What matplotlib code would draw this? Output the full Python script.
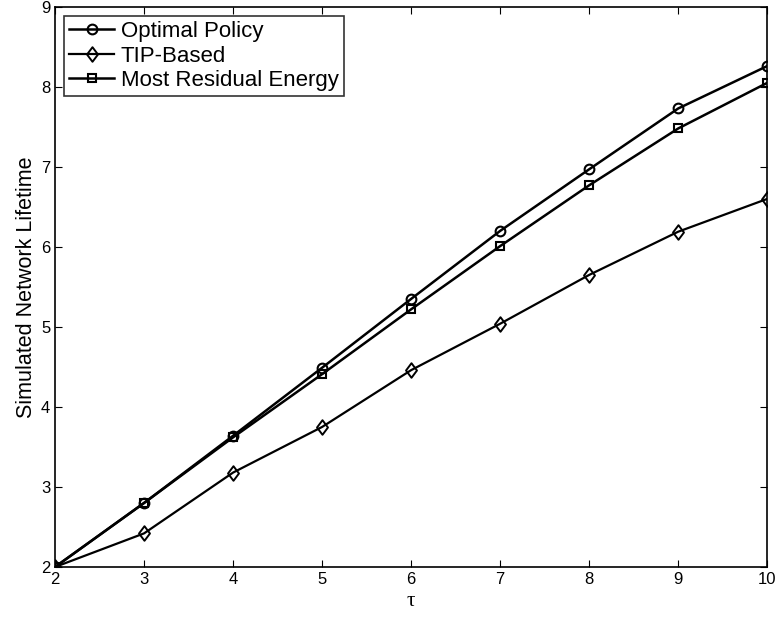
import matplotlib
matplotlib.use('Agg')
import matplotlib.pyplot as plt
from matplotlib.path import Path
import numpy as np

plt.rcParams['font.family'] = ['Liberation Sans', 'DejaVu Sans']

tau = [2, 3, 4, 5, 6, 7, 8, 9, 10]
optimal = [2, 2.80, 3.64, 4.49, 5.35, 6.20, 6.97, 7.73, 8.26]
tip_based = [2, 2.42, 3.18, 3.75, 4.46, 5.04, 5.65, 6.19, 6.60]
most_residual = [2, 2.80, 3.62, 4.41, 5.22, 6.01, 6.77, 7.48, 8.05]

# diamond a bit taller than wide, like the matlab one
diamond = Path([(0, 1), (0.75, 0), (0, -1), (-0.75, 0), (0, 1)],
               [Path.MOVETO, Path.LINETO, Path.LINETO, Path.LINETO, Path.CLOSEPOLY])

fig = plt.figure(figsize=(7.75, 6.2), dpi=100)
ax = fig.add_axes([0.071, 0.0855, 0.919, 0.9035])

ax.plot(tau, optimal, color='black', lw=1.8, marker='o', ms=7, mfc='none', mew=1.5, label='Optimal Policy')
ax.plot(tau, tip_based, color='black', lw=1.6, marker=diamond, ms=10.5, mfc='none', mew=1.4, label='TIP-Based')
ax.plot(tau, most_residual, color='black', lw=1.8, marker='s', ms=5.5, mfc='none', mew=1.5, label='Most Residual Energy')

ax.set_xlim(2, 10)
ax.set_ylim(2, 9)
ax.set_xticks(range(2, 11))
ax.set_yticks(range(2, 10))
ax.tick_params(direction='in', top=True, right=True, labelsize=12, length=5)
for s in ax.spines.values():
    s.set_linewidth(1.2)
ax.set_xlabel('τ', fontsize=15, family=['Liberation Serif', 'DejaVu Serif'])
ax.set_ylabel('Simulated Network Lifetime', fontsize=15.5, labelpad=3)

leg = ax.legend(loc='upper left', fontsize=16, frameon=True, fancybox=False,
                edgecolor='black', borderpad=0.25, handlelength=2.0,
                handletextpad=0.3, labelspacing=0.15, borderaxespad=0.4)
leg.get_frame().set_linewidth(1.2)

fig.savefig('out.png', dpi=100)
